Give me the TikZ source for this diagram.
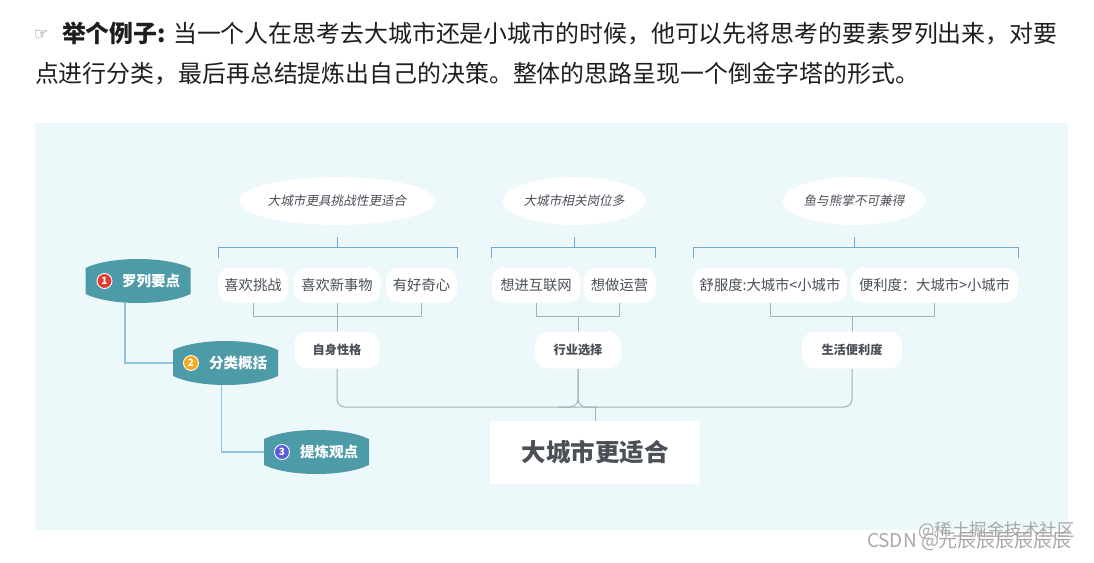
\documentclass[tikz,border=0pt]{standalone}
\usepackage{fontspec}
\setmainfont{Noto Sans CJK SC}
\newfontfamily\slantcjk{Noto Sans CJK SC}[FakeSlant=0.2]
\newfontfamily\dejavu{DejaVu Sans}
\usetikzlibrary{shapes.geometric}
\pgfdeclarelayer{bglayer}
\pgfdeclarelayer{midlayer}
\pgfsetlayers{bglayer,midlayer,main}
\definecolor{panelc}{HTML}{EDF8FA}
\definecolor{tealc}{HTML}{4C9BA7}
\definecolor{tlinec}{HTML}{72A9D0}
\definecolor{glinec}{HTML}{A6B0B8}
\definecolor{sconnc}{HTML}{8FC4E0}
\definecolor{leaftextc}{HTML}{4A4F58}
\definecolor{bodytextc}{HTML}{1E1E1E}
\definecolor{numred}{HTML}{E23B30}
\definecolor{numorange}{HTML}{F4A81D}
\definecolor{numblue}{HTML}{5A5ADB}
\definecolor{wmc}{HTML}{A8A8A8}
\newcommand\fsz[1]{\fontsize{#1}{#1}\selectfont}
\newcommand\tealfill[1]{%
  \fill[tealc] ([yshift=-9pt]#1.north west)
    .. controls ([shift={(25pt,3pt)}]#1.north west) and ([shift={(-25pt,3pt)}]#1.north east) .. ([yshift=-9pt]#1.north east)
    -- ([yshift=9pt]#1.south east)
    .. controls ([shift={(-25pt,-3pt)}]#1.south east) and ([shift={(25pt,-3pt)}]#1.south west) .. ([yshift=9pt]#1.south west)
    -- cycle;}
\begin{document}
\begin{tikzpicture}[x=1pt,y=-1pt,
  every node/.style={inner sep=0pt, outer sep=0pt},
  cloudtop/.style={ellipse, fill=white, minimum width=#1, minimum height=48pt, font=\slantcjk\fsz{12.6}, text=leaftextc},
  leaf/.style={rectangle, rounded corners=13pt, fill=white, minimum width=#1, minimum height=35pt, font=\fsz{14.3}, text=leaftextc},
  summ/.style={rectangle, rounded corners=13pt, fill=white, minimum width=#1, minimum height=37pt, font=\bfseries\fsz{12.2}, text=leaftextc},
  tealnode/.style={minimum width=105pt, minimum height=44pt, font=\bfseries\fsz{14.5}, text=white},
  numc/.style={circle, draw=white, line width=0.9pt, minimum size=15pt, font=\bfseries\fsz{10}, text=white},
  tline/.style={draw=tlinec, line width=1pt},
  gline/.style={draw=glinec, line width=1pt},
  sline/.style={draw=sconnc, line width=1.1pt},
  bodytext/.style={anchor=west, font=\fsz{23.9}, text=bodytextc},
  wm/.style={anchor=west, text=wmc},
]
\useasboundingbox (0,0) rectangle (1094,562);

% header text
\node[anchor=west, font=\dejavu\fsz{16}, text=black!65] (hand) at (34,35) {☞};
\node[bodytext] (line1) at (62,33) {\textbf{举个例子:} 当一个人在思考去大城市还是小城市的时候，他可以先将思考的要素罗列出来，对要};
\node[bodytext] (line2) at (35,74) {点进行分类，最后再总结提炼出自己的决策。整体的思路呈现一个倒金字塔的形式。};

\begin{pgfonlayer}{bglayer}
  \fill[panelc] (35,123) rectangle (1068,530);
\end{pgfonlayer}

% top clouds
\node[cloudtop=173pt] (e1) at (337,201) {大城市更具挑战性更适合};
\node[cloudtop=136pt] (e2) at (574,201) {大城市相关岗位多};
\node[cloudtop=136pt] (e3) at (854,201) {鱼与熊掌不可兼得};

% leaves
\node[leaf=70pt] (l1) at (253,285) {喜欢挑战};
\node[leaf=87pt] (l2) at (337,285) {喜欢新事物};
\node[leaf=71pt] (l3) at (421.5,285) {有好奇心};
\node[leaf=89pt] (l4) at (536,285) {想进互联网};
\node[leaf=72pt] (l5) at (619.5,285) {想做运营};
\node[leaf=154pt] (l6) at (770,285) {舒服度:大城市<小城市};
\node[leaf=167pt] (l7) at (934.5,285) {便利度：大城市>小城市};

% summaries
\node[summ=85pt] (s1) at (337,350) {自身性格};
\node[summ=86pt] (s2) at (578,350) {行业选择};
\node[summ=100pt] (s3) at (852,350) {生活便利度};

% main conclusion
\node[rectangle, fill=white, minimum width=210pt, minimum height=63pt, font=\bfseries\fsz{24.5}, text=leaftextc] (m) at (595,452.5) {大城市更适合};

% steps
\node[tealnode] (t1) at (138,281) {\hspace*{26pt}罗列要点};
\node[tealnode] (t2) at (225.5,363) {\hspace*{25pt}分类概括};
\node[tealnode] (t3) at (316.5,452) {\hspace*{25pt}提炼观点};
\node[numc, fill=numred] (c1) at ([xshift=19pt]t1.west) {1};
\node[numc, fill=numorange] (c2) at ([xshift=18pt]t2.west) {2};
\node[numc, fill=numblue] (c3) at ([xshift=18pt]t3.west) {3};

% watermarks
\node[wm, font=\fsz{17.5}] (w1) at (918,531) {@稀土掘金技术社区};
\node[wm, font=\fsz{19}] (w2) at (867,542) {CSDN @元辰辰辰辰辰辰};

\begin{pgfonlayer}{midlayer}
  \tealfill{t1}
  \tealfill{t2}
  \tealfill{t3}
\end{pgfonlayer}

\coordinate (ytop) at (0,247);
\coordinate (ytick) at (0,258);
\coordinate (ylow) at (0,316);
\coordinate (bus) at (595,407);

\begin{pgfonlayer}{bglayer}
  % top brackets
  \draw[tline] ([yshift=-12pt]e1.south) -- (e1.south |- ytop);
  \draw[tline] (l1.west |- ytick) -- (l1.west |- ytop) -- (l3.east |- ytop) -- (l3.east |- ytick);
  \draw[tline] ([yshift=-12pt]e2.south) -- (e2.south |- ytop);
  \draw[tline] (l4.west |- ytick) -- (l4.west |- ytop) -- (l5.east |- ytop) -- (l5.east |- ytick);
  \draw[tline] ([yshift=-12pt]e3.south) -- (e3.south |- ytop);
  \draw[tline] (l6.west |- ytick) -- (l6.west |- ytop) -- (l7.east |- ytop) -- (l7.east |- ytick);
  % lower brackets
  \draw[gline] (l1.south) -- (l1.south |- ylow) -- (l3.south |- ylow) -- (l3.south);
  \draw[gline] (l2.south) -- (s1.north);
  \draw[gline] (l4.south) -- (l4.south |- ylow) -- (l5.south |- ylow) -- (l5.south);
  \draw[gline] (s2.north |- ylow) -- (s2.north);
  \draw[gline] (l6.south) -- (l6.south |- ylow) -- (l7.south |- ylow) -- (l7.south);
  \draw[gline] (s3.north |- ylow) -- (s3.north);
  % bus
  \coordinate (j2) at (s2.south |- bus);
  \draw[gline, rounded corners=8pt] (s1.south) |- (bus) -| (s3.south);
  \draw[gline, rounded corners=8pt] (s2.south) |- ([xshift=-20pt]j2);
  \draw[gline, rounded corners=8pt] (s2.south) |- ([xshift=20pt]j2);
  \draw[gline] (m.north) -- (bus);
  % step connectors
  \draw[sline] ([xshift=-13pt]t1.south) |- (t2.west);
  \draw[sline] ([xshift=-4pt]t2.south) |- (t3.west);
\end{pgfonlayer}
\end{tikzpicture}
\end{document}
